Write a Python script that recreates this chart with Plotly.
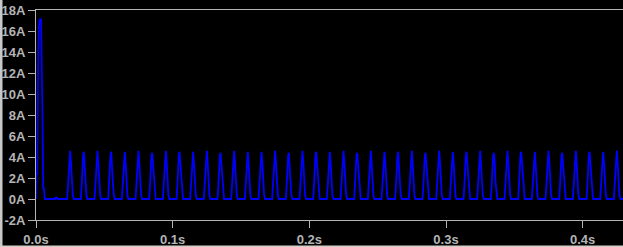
import plotly.graph_objects as go

# ---- data (LTspice-style current trace) ----
surge_t = [0.0, 0.0003, 0.0009, 0.0011, 0.0016, 0.0021, 0.0027, 0.0037, 0.0043,
           0.0048, 0.0053, 0.0058, 0.0063, 0.0066, 0.0140, 0.0143, 0.0155, 0.0158]
surge_i = [0.0, 2.4, 2.4, 7.4, 13.3, 16.4, 17.1, 17.1, 13.3,
           7.4, 1.0, 1.0, 0.2, 0.0, 0.0, 0.12, 0.12, 0.0]

pulse_t = [
    0.0228, 0.0234, 0.0239, 0.0245, 0.0250, 0.0256, 0.0262, 0.0269, 0.0276,
    0.0328, 0.0334, 0.0339, 0.0345, 0.0350, 0.0356, 0.0362, 0.0369, 0.0376,
    0.0428, 0.0434, 0.0439, 0.0445, 0.0450, 0.0456, 0.0462, 0.0469, 0.0476,
    0.0528, 0.0534, 0.0539, 0.0545, 0.0550, 0.0556, 0.0562, 0.0569, 0.0576,
    0.0628, 0.0634, 0.0639, 0.0645, 0.0650, 0.0656, 0.0662, 0.0669, 0.0676,
    0.0728, 0.0734, 0.0739, 0.0745, 0.0750, 0.0756, 0.0762, 0.0769, 0.0776,
    0.0828, 0.0834, 0.0839, 0.0845, 0.0850, 0.0856, 0.0862, 0.0869, 0.0876,
    0.0928, 0.0934, 0.0939, 0.0945, 0.0950, 0.0956, 0.0962, 0.0969, 0.0976,
    0.1028, 0.1034, 0.1039, 0.1045, 0.1050, 0.1056, 0.1062, 0.1069, 0.1076,
    0.1128, 0.1134, 0.1139, 0.1145, 0.1150, 0.1156, 0.1162, 0.1169, 0.1176,
    0.1228, 0.1234, 0.1239, 0.1245, 0.1250, 0.1256, 0.1262, 0.1269, 0.1276,
    0.1328, 0.1334, 0.1339, 0.1345, 0.1350, 0.1356, 0.1362, 0.1369, 0.1376,
    0.1428, 0.1434, 0.1439, 0.1445, 0.1450, 0.1456, 0.1462, 0.1469, 0.1476,
    0.1528, 0.1534, 0.1539, 0.1545, 0.1550, 0.1556, 0.1562, 0.1569, 0.1576,
    0.1628, 0.1634, 0.1639, 0.1645, 0.1650, 0.1656, 0.1662, 0.1669, 0.1676,
    0.1728, 0.1734, 0.1739, 0.1745, 0.1750, 0.1756, 0.1762, 0.1769, 0.1776,
    0.1828, 0.1834, 0.1839, 0.1845, 0.1850, 0.1856, 0.1862, 0.1869, 0.1876,
    0.1928, 0.1934, 0.1939, 0.1945, 0.1950, 0.1956, 0.1962, 0.1969, 0.1976,
    0.2028, 0.2034, 0.2039, 0.2045, 0.2050, 0.2056, 0.2062, 0.2069, 0.2076,
    0.2128, 0.2134, 0.2139, 0.2145, 0.2150, 0.2156, 0.2162, 0.2169, 0.2176,
    0.2228, 0.2234, 0.2239, 0.2245, 0.2250, 0.2256, 0.2262, 0.2269, 0.2276,
    0.2328, 0.2334, 0.2339, 0.2345, 0.2350, 0.2356, 0.2362, 0.2369, 0.2376,
    0.2428, 0.2434, 0.2439, 0.2445, 0.2450, 0.2456, 0.2462, 0.2469, 0.2476,
    0.2528, 0.2534, 0.2539, 0.2545, 0.2550, 0.2556, 0.2562, 0.2569, 0.2576,
    0.2628, 0.2634, 0.2639, 0.2645, 0.2650, 0.2656, 0.2662, 0.2669, 0.2676,
    0.2728, 0.2734, 0.2739, 0.2745, 0.2750, 0.2756, 0.2762, 0.2769, 0.2776,
    0.2828, 0.2834, 0.2839, 0.2845, 0.2850, 0.2856, 0.2862, 0.2869, 0.2876,
    0.2928, 0.2934, 0.2939, 0.2945, 0.2950, 0.2956, 0.2962, 0.2969, 0.2976,
    0.3028, 0.3034, 0.3039, 0.3045, 0.3050, 0.3056, 0.3062, 0.3069, 0.3076,
    0.3128, 0.3134, 0.3139, 0.3145, 0.3150, 0.3156, 0.3162, 0.3169, 0.3176,
    0.3228, 0.3234, 0.3239, 0.3245, 0.3250, 0.3256, 0.3262, 0.3269, 0.3276,
    0.3328, 0.3334, 0.3339, 0.3345, 0.3350, 0.3356, 0.3362, 0.3369, 0.3376,
    0.3428, 0.3434, 0.3439, 0.3445, 0.3450, 0.3456, 0.3462, 0.3469, 0.3476,
    0.3528, 0.3534, 0.3539, 0.3545, 0.3550, 0.3556, 0.3562, 0.3569, 0.3576,
    0.3628, 0.3634, 0.3639, 0.3645, 0.3650, 0.3656, 0.3662, 0.3669, 0.3676,
    0.3728, 0.3734, 0.3739, 0.3745, 0.3750, 0.3756, 0.3762, 0.3769, 0.3776,
    0.3828, 0.3834, 0.3839, 0.3845, 0.3850, 0.3856, 0.3862, 0.3869, 0.3876,
    0.3928, 0.3934, 0.3939, 0.3945, 0.3950, 0.3956, 0.3962, 0.3969, 0.3976,
    0.4028, 0.4034, 0.4039, 0.4045, 0.4050, 0.4056, 0.4062, 0.4069, 0.4076,
    0.4128, 0.4134, 0.4139, 0.4145, 0.4150, 0.4156, 0.4162, 0.4169, 0.4176,
    0.4228, 0.4234, 0.4239, 0.4245, 0.4250, 0.4256, 0.4262, 0.4269, 0.4276,
    0.4295,
]
pulse_i = [
    0, 1.2, 2.7, 4.1, 4.6, 3.5, 1.6, 0.4, 0,
    0, 1.3, 2.9, 4.2, 4.5, 3.3, 1.7, 0.3, 0,
    0, 1.2, 2.8, 4.3, 4.6, 3.4, 1.8, 0.4, 0,
    0, 1.4, 2.9, 4.2, 4.5, 3.5, 1.7, 0.4, 0,
    0, 1.3, 2.8, 4.1, 4.5, 3.3, 1.6, 0.3, 0,
    0, 1.2, 2.7, 4.2, 4.6, 3.4, 1.8, 0.4, 0,
    0, 1.3, 2.9, 4.1, 4.4, 3.4, 1.7, 0.4, 0,
    0, 1.3, 2.8, 4.3, 4.6, 3.5, 1.7, 0.3, 0,
    0, 1.2, 2.8, 4.2, 4.5, 3.4, 1.6, 0.4, 0,
    0, 1.4, 2.9, 4.1, 4.5, 3.3, 1.7, 0.4, 0,
    0, 1.3, 2.7, 4.2, 4.6, 3.5, 1.8, 0.3, 0,
    0, 1.2, 2.8, 4.1, 4.4, 3.4, 1.6, 0.4, 0,
    0, 1.3, 2.9, 4.3, 4.6, 3.4, 1.7, 0.4, 0,
    0, 1.3, 2.8, 4.2, 4.5, 3.3, 1.7, 0.3, 0,
    0, 1.2, 2.7, 4.1, 4.5, 3.5, 1.8, 0.4, 0,
    0, 1.4, 2.9, 4.2, 4.6, 3.4, 1.6, 0.4, 0,
    0, 1.3, 2.8, 4.1, 4.4, 3.4, 1.7, 0.3, 0,
    0, 1.2, 2.8, 4.3, 4.6, 3.5, 1.7, 0.4, 0,
    0, 1.3, 2.9, 4.2, 4.5, 3.3, 1.8, 0.4, 0,
    0, 1.3, 2.7, 4.1, 4.5, 3.4, 1.6, 0.3, 0,
    0, 1.2, 2.8, 4.2, 4.6, 3.5, 1.7, 0.4, 0,
    0, 1.4, 2.9, 4.1, 4.4, 3.4, 1.7, 0.4, 0,
    0, 1.3, 2.8, 4.3, 4.6, 3.3, 1.8, 0.3, 0,
    0, 1.2, 2.7, 4.2, 4.5, 3.4, 1.6, 0.4, 0,
    0, 1.3, 2.9, 4.1, 4.5, 3.5, 1.7, 0.4, 0,
    0, 1.3, 2.8, 4.2, 4.6, 3.4, 1.7, 0.3, 0,
    0, 1.2, 2.8, 4.1, 4.4, 3.3, 1.8, 0.4, 0,
    0, 1.4, 2.9, 4.3, 4.6, 3.5, 1.6, 0.4, 0,
    0, 1.3, 2.7, 4.2, 4.5, 3.4, 1.7, 0.3, 0,
    0, 1.2, 2.8, 4.1, 4.5, 3.4, 1.7, 0.4, 0,
    0, 1.3, 2.9, 4.2, 4.6, 3.3, 1.8, 0.4, 0,
    0, 1.3, 2.8, 4.1, 4.4, 3.5, 1.6, 0.3, 0,
    0, 1.2, 2.7, 4.3, 4.6, 3.4, 1.7, 0.4, 0,
    0, 1.4, 2.9, 4.2, 4.5, 3.4, 1.7, 0.4, 0,
    0, 1.3, 2.8, 4.1, 4.5, 3.3, 1.8, 0.3, 0,
    0, 1.2, 2.8, 4.2, 4.6, 3.5, 1.6, 0.4, 0,
    0, 1.3, 2.9, 4.1, 4.4, 3.4, 1.7, 0.4, 0,
    0, 1.3, 2.7, 4.3, 4.6, 3.4, 1.7, 0.3, 0,
    0, 1.2, 2.8, 4.2, 4.5, 3.3, 1.8, 0.4, 0,
    0, 1.4, 2.9, 4.1, 4.5, 3.5, 1.6, 0.4, 0,
    0, 1.3, 2.8, 4.2, 4.6, 3.4, 1.7, 0.3, 0,
    0,
]

time_s = surge_t + pulse_t
current_a = surge_i + pulse_i

y_tick_vals = [-2, 0, 2, 4, 6, 8, 10, 12, 14, 16, 18]
y_tick_text = ["-2A", "0A", "2A", "4A", "6A", "8A", "10A", "12A", "14A", "16A", "18A"]
x_tick_vals = [0.0, 0.1, 0.2, 0.3, 0.4]
x_tick_text = ["0.0s", "0.1s", "0.2s", "0.3s", "0.4s"]

AXIS = "#b4b4b4"
LABEL = "#b4b4b4"
FONT = "Liberation Sans, Arial, sans-serif"

fig = go.Figure()
fig.add_trace(go.Scatter(
    x=time_s, y=current_a, mode="lines",
    line=dict(color="#0000ff", width=1.8),
    hoverinfo="skip", showlegend=False,
))

fig.update_layout(
    width=623, height=247,
    margin=dict(l=36, r=0, t=10, b=27, pad=0),
    paper_bgcolor="#000000", plot_bgcolor="#000000",
    font=dict(family=FONT, size=13, color=LABEL),
    showlegend=False,
    shapes=[
        dict(type="rect", xref="paper", yref="paper",
             x0=-36 / 587, x1=-33.5 / 587, y0=-27 / 210, y1=1 + 10 / 210,
             fillcolor="#c8c8c8", line=dict(width=0), layer="above"),
        dict(type="rect", xref="paper", yref="paper",
             x0=-36 / 587, x1=1, y0=-27 / 210, y1=-25.5 / 210,
             fillcolor="#d4d0c8", line=dict(width=0), layer="above"),
    ],
)
fig.update_xaxes(
    range=[0, 0.4295], tickvals=x_tick_vals, ticktext=x_tick_text,
    showgrid=False, zeroline=False,
    showline=True, linecolor=AXIS, linewidth=1, mirror=True,
    ticks="outside", ticklen=7, tickcolor=AXIS, tickwidth=1,
    tickfont=dict(family=FONT, size=13, color=LABEL, weight="bold"),
)
fig.update_yaxes(
    range=[-2, 18], tickvals=y_tick_vals, ticktext=y_tick_text,
    showgrid=False, zeroline=False,
    showline=True, linecolor=AXIS, linewidth=1,
    ticks="outside", ticklen=7, tickcolor=AXIS, tickwidth=1,
    tickfont=dict(family=FONT, size=13, color=LABEL, weight="bold"),
)

fig.write_html("out.html")
